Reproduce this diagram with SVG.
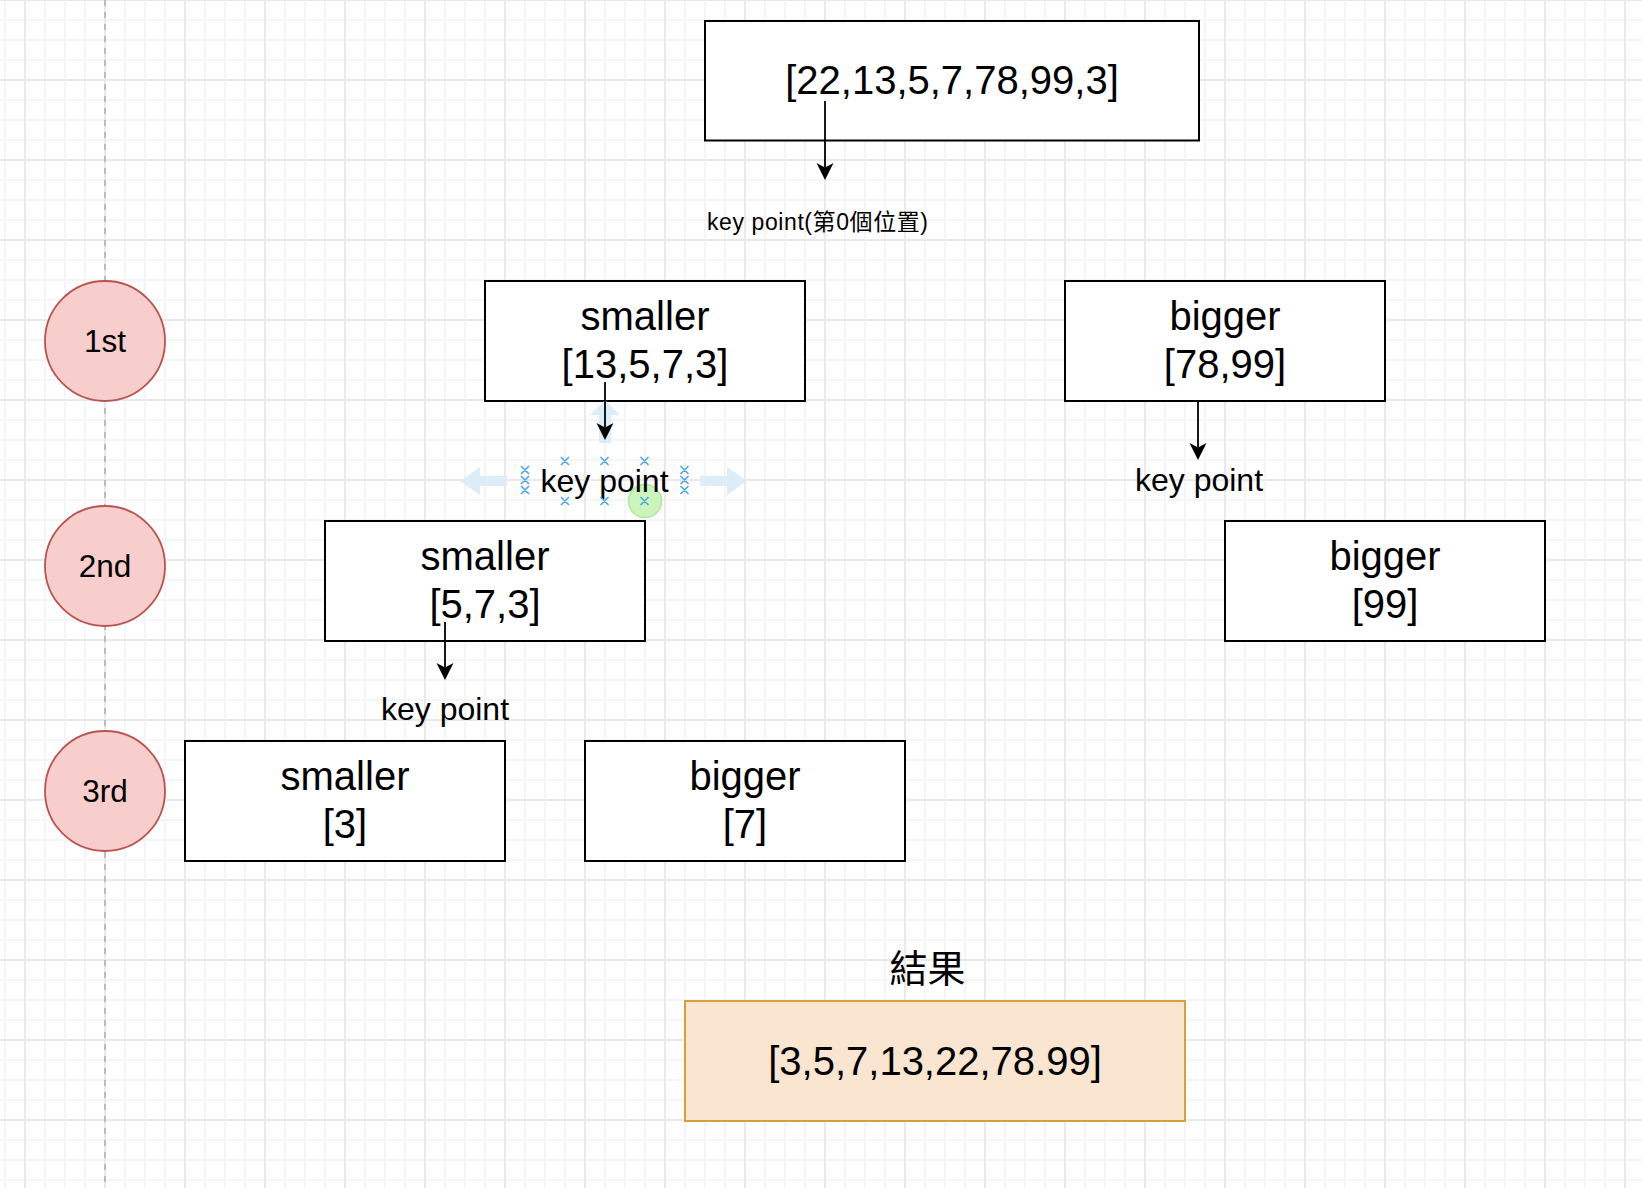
<svg xmlns="http://www.w3.org/2000/svg" width="1642" height="1188" viewBox="0 0 1642 1188">
<defs>
<pattern id="grid" patternUnits="userSpaceOnUse" x="24" y="-1" width="80" height="80">
<rect x="20" y="0" width="2" height="80" fill="#f5f5f5"/>
<rect x="40" y="0" width="2" height="80" fill="#f5f5f5"/>
<rect x="60" y="0" width="2" height="80" fill="#f5f5f5"/>
<rect x="0" y="20" width="80" height="2" fill="#f5f5f5"/>
<rect x="0" y="40" width="80" height="2" fill="#f5f5f5"/>
<rect x="0" y="60" width="80" height="2" fill="#f5f5f5"/>
<rect x="0" y="0" width="2" height="80" fill="#e9e9e9"/>
<rect x="0" y="0" width="80" height="2" fill="#e9e9e9"/>
</pattern>
<marker id="arr" markerUnits="userSpaceOnUse" viewBox="0 0 18 18" refX="4.5" refY="9" markerWidth="18" markerHeight="18" orient="auto">
<path d="M17,9 L0,0.5 L4.5,9 L0,17.5 Z" fill="#000"/>
</marker>
</defs>
<style>
.box{fill:#fff;stroke:#000;stroke-width:2}
.t{font-family:"Liberation Sans",Arial,Helvetica,sans-serif;fill:#000;text-anchor:middle}
.big{font-size:40px}
.kp{font-size:32px}
.circ{fill:#f8cecc;stroke:#b85450;stroke-width:1.8}
.ct{font-size:31.5px}
.conn{fill:none;stroke:#000;stroke-width:1.8;marker-end:url(#arr)}
.hov{fill:#dcecf8}
.xm{stroke:#4ba7e6;stroke-width:1.6;fill:none}
</style>
<rect x="0" y="0" width="1642" height="1188" fill="#fff"/>
<rect x="0" y="0" width="1642" height="1188" fill="url(#grid)"/>
<line x1="105" y1="0" x2="105" y2="1188" stroke="#bbbbbb" stroke-width="2" stroke-dasharray="6 6"/>

<g id="circle-1st"><circle class="circ" cx="105" cy="341" r="60"/><text class="t ct" x="105" y="352">1st</text></g>
<g id="circle-2nd"><circle class="circ" cx="105" cy="566" r="60"/><text class="t ct" x="105" y="577">2nd</text></g>
<g id="circle-3rd"><circle class="circ" cx="105" cy="791" r="60"/><text class="t ct" x="105" y="802">3rd</text></g>

<g id="node-top"><rect class="box" x="705" y="21" width="494" height="119.5"/><text class="t big" x="952" y="94">[22,13,5,7,78,99,3]</text></g>
<g id="node-smaller-1"><rect class="box" x="485" y="281" width="320" height="120"/><text class="t big"><tspan x="645" y="330">smaller</tspan><tspan x="645" y="377.5">[13,5,7,3]</tspan></text></g>
<g id="node-bigger-1"><rect class="box" x="1065" y="281" width="320" height="120"/><text class="t big"><tspan x="1225" y="330">bigger</tspan><tspan x="1225" y="377.5">[78,99]</tspan></text></g>
<g id="node-smaller-2"><rect class="box" x="325" y="521" width="320" height="120"/><text class="t big"><tspan x="485" y="570">smaller</tspan><tspan x="485" y="617.5">[5,7,3]</tspan></text></g>
<g id="node-bigger-2"><rect class="box" x="1225" y="521" width="320" height="120"/><text class="t big"><tspan x="1385" y="570">bigger</tspan><tspan x="1385" y="617.5">[99]</tspan></text></g>
<g id="node-smaller-3"><rect class="box" x="185" y="741" width="320" height="120"/><text class="t big"><tspan x="345" y="790">smaller</tspan><tspan x="345" y="837.5">[3]</tspan></text></g>
<g id="node-bigger-3"><rect class="box" x="585" y="741" width="320" height="120"/><text class="t big"><tspan x="745" y="790">bigger</tspan><tspan x="745" y="837.5">[7]</tspan></text></g>

<g id="node-result-label"><text x="927.5" y="982" style="font-family:'Noto Sans CJK TC','Noto Sans CJK SC',sans-serif;font-size:38px;text-anchor:middle;fill:#000">結果</text></g>
<g id="node-result"><rect x="685" y="1001" width="500" height="120" fill="#fae6d0" stroke="#d5a03c" stroke-width="2"/><text class="t big" x="935" y="1074.5">[3,5,7,13,22,78.99]</text></g>

<g id="selection-handles">
<path class="hov" d="M605,400 L620,415 L611,415 L611,443 L599,443 L599,415 L590,415 Z"/>
<path class="hov" d="M460,481 L480,467 L480,476 L507,476 L507,486 L480,486 L480,495 Z"/>
<path class="hov" d="M747,481 L727,467 L727,476 L700,476 L700,486 L727,486 L727,495 Z"/>
<circle cx="645" cy="501" r="16.5" fill="#cdf4bc" stroke="#b2e894" stroke-width="1.5"/>
</g>

<g id="connectors">
<path class="conn" d="M825,101 V167.5"/>
<path class="conn" d="M605,382 V427.5"/>
<path class="conn" d="M1198,401 V447.5"/>
<path class="conn" d="M445,622 V667.5"/>
</g>

<g id="label-key-point-0"><text x="707" y="230" textLength="221" lengthAdjust="spacing" style="font-family:'Liberation Sans','Noto Sans CJK TC',sans-serif;font-size:23px;fill:#000">key point(第0個位置)</text></g>
<g id="label-key-point-1"><text class="t kp" x="604.5" y="491.5">key point</text></g>
<g id="label-key-point-2"><text class="t kp" x="1199" y="490.5">key point</text></g>
<g id="label-key-point-3"><text class="t kp" x="445" y="720">key point</text></g>

<g id="selection-points">
<path class="xm" d="M561,457 l8,8 m0,-8 l-8,8 M600.5,457 l8,8 m0,-8 l-8,8 M640.5,457 l8,8 m0,-8 l-8,8 M561,497 l8,8 m0,-8 l-8,8 M600.5,497 l8,8 m0,-8 l-8,8 M640.5,497 l8,8 m0,-8 l-8,8 M521,466 l8,8 m0,-8 l-8,8 M521,476 l8,8 m0,-8 l-8,8 M521,486 l8,8 m0,-8 l-8,8 M680.5,466 l8,8 m0,-8 l-8,8 M680.5,476 l8,8 m0,-8 l-8,8 M680.5,486 l8,8 m0,-8 l-8,8"/>
</g>
</svg>
